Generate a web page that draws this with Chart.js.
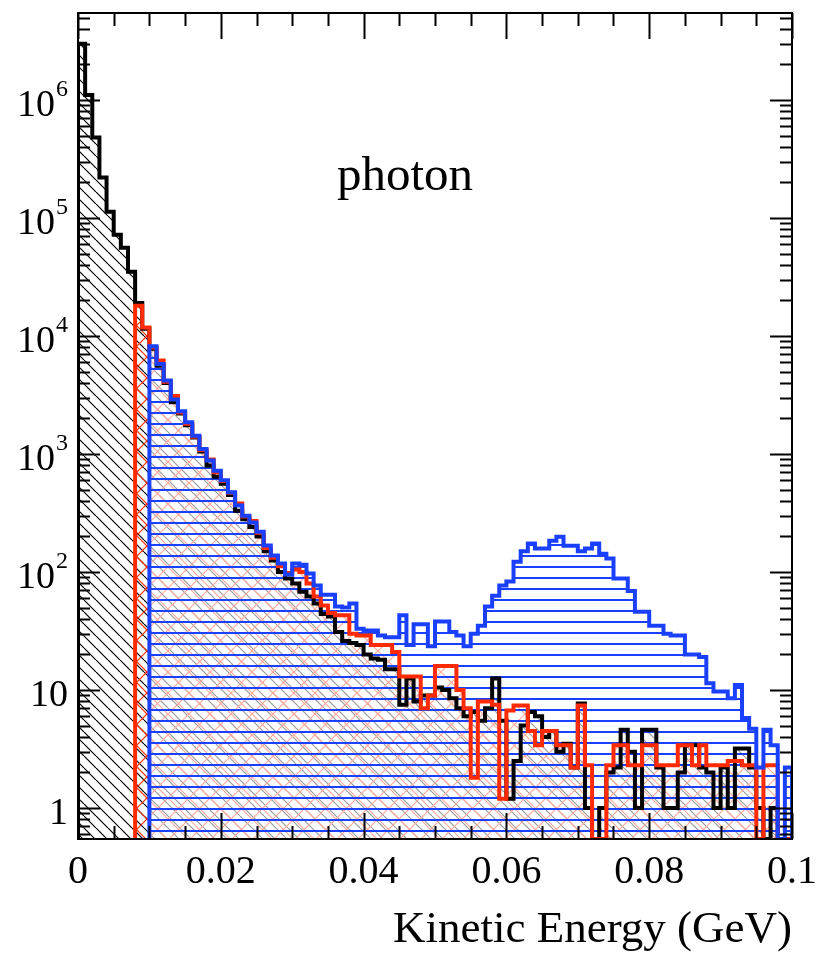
<!DOCTYPE html>
<html>
<head>
<meta charset="utf-8">
<title>photon kinetic energy</title>
<script src="https://cdn.jsdelivr.net/npm/chart.js@4.4.1/dist/chart.umd.min.js"></script>
<style>
  html, body { margin: 0; padding: 0; background: #fff; }
  #wrap { width: 816px; height: 956px; position: relative; }
</style>
</head>
<body>
<div id="wrap"><canvas id="histo"></canvas></div>
<script>
// binning: 100 bins of 1 MeV from 0 to 0.1 GeV
const xMin = 0;
const xMax = 0.1;
const binWidth = 0.001;
const yMin = 0.546;
const yMax = 5.46e6;

// black histogram, bins 0..99
const blackStart = 0;
const blackCounts = [
  3.0e6, 1.1e6, 4.8e5, 2.2e5, 1.13e5, 7.2e4, 5.6e4, 3.5e4, 1.9e4, 1.15e4,
  7800, 5600, 4000, 2750, 2200, 1750, 1380, 1050, 800, 640,
  560, 450, 330, 280, 240, 200, 150, 125, 100, 88,
  80, 68, 62, 54, 44, 42, 31, 26, 25, 24,
  20, 18.5, 18, 15, 15, 7.5, 12.5, 8, 9, 9,
  10.5, 10, 8.5, 7, 6, 6.5, 5.5, 7, 12.5, 5.5,
  1.2, 2.5, 5, 6.5, 6, 4, 4.5, 3, 3.5, 2.2,
  7.7, 1, 0, 1, 2, 2.2, 4.6, 3, 1, 4.6,
  4.6, 2.2, 1, 1, 2, 3.4, 3.4, 2.2, 2, 1,
  2.2, 1, 3.2, 3.2, 2.2, 1, 0, 1, 0, 0
];

// red histogram, bins 8..99
const redStart = 8;
const redCounts = [
  1.8e4, 1.18e4,
  8000, 6200, 4100, 3100, 2250, 1800, 1400, 1080, 900, 700,
  590, 470, 380, 295, 270, 215, 160, 132, 112, 98,
  105, 100, 80, 62, 52, 45, 43, 43, 30, 29,
  29, 24, 24, 24, 21, 13, 13, 13, 7, 9,
  16, 16, 16, 10, 7, 1.8, 8, 8, 7.5, 1.2,
  6.7, 7.4, 7.4, 4.5, 3.4, 4.5, 4.5, 3.4, 3.4, 2.2,
  7.4, 2.3, 0, 0, 2.3, 3.4, 3.4, 2.3, 2.3, 3.4,
  3.4, 2.3, 2.3, 2.3, 3.4, 3.4, 2.3, 3.4, 2.3, 2.3,
  2.3, 2.5, 2.5, 2.3, 2.3, 0, 2.3, 2.3, 0, 0
];

// blue histogram, bins 10..99
const blueStart = 10;
const blueCounts = [
  8200, 5800, 4200, 2900, 2300, 1860, 1430, 1100, 880, 720,
  600, 475, 366, 300, 263, 219, 168, 138, 118, 95,
  118, 115, 97, 77, 64, 64, 51, 50, 54, 33,
  32, 32, 29, 28, 28, 43, 24, 36, 36, 23.5,
  38, 38, 31, 29, 23.5, 30, 35, 51, 63, 77,
  83, 122, 150, 174, 158, 158, 184, 199, 167, 167,
  150, 158, 174, 143, 130, 88, 88, 69, 46, 46,
  35, 35, 30, 29, 29, 20, 20, 19, 11.4, 9.7,
  9.7, 8.5, 11, 5.8, 4.7, 2.2, 4.6, 3.4, 0, 2.2
];

// axis labels
const xMajorTicks = [0, 0.02, 0.04, 0.06, 0.08, 0.1];
const xTickLabels = ['0', '0.02', '0.04', '0.06', '0.08', '0.1'];
const yMajorTicks = [1, 10, 1e2, 1e3, 1e4, 1e5, 1e6];
const yTickBases = ['1', '10', '10', '10', '10', '10', '10'];
const yTickExps = ['', '', '2', '3', '4', '5', '6'];
const xTitle = 'Kinetic Energy (GeV)';
const panelLabel = 'photon';

const serif = "'Liberation Serif', 'DejaVu Serif', serif";
const red = '#ff2a00';
const blue = '#1a40ff';

function hatch(w, h, draw) {
  const c = document.createElement('canvas');
  c.width = w;
  c.height = h;
  const g = c.getContext('2d');
  draw(g, w, h);
  return g.createPattern(c, 'repeat');
}

const blackHatch = hatch(12, 12, (g, w, h) => {
  g.strokeStyle = '#000';
  g.lineWidth = 1.2;
  for (let k = -1; k <= 1; k++) {
    g.beginPath();
    g.moveTo(k * w, 0);
    g.lineTo(k * w + w, h);
    g.stroke();
  }
});

const redHatch = hatch(21, 21, (g, w, h) => {
  g.strokeStyle = red;
  g.lineWidth = 1.2;
  for (let k = -1; k <= 1; k++) {
    g.beginPath();
    g.moveTo(k * w, h);
    g.lineTo(k * w + w, 0);
    g.stroke();
    g.beginPath();
    g.moveTo(k * w, 0);
    g.lineTo(k * w + w, h);
    g.stroke();
  }
});

// horizontal lines over a veil that dims the hatching underneath
const blueHatch = hatch(4, 11, (g, w, h) => {
  g.fillStyle = 'rgba(255,255,255,0.6)';
  g.fillRect(0, 0, w, h);
  g.fillStyle = blue;
  g.fillRect(0, 5, w, 2);
});

// step outline points: rise from the floor at the first edge, fall back at the last
function histPoints(counts, firstBin) {
  const pts = [{ x: firstBin * binWidth, y: yMin }];
  counts.forEach((v, i) => {
    pts.push({ x: (firstBin + i) * binWidth, y: v > 0 ? v : yMin });
  });
  const last = counts[counts.length - 1];
  const end = (firstBin + counts.length) * binWidth;
  pts.push({ x: end, y: last > 0 ? last : yMin });
  pts.push({ x: end, y: yMin });
  return pts;
}

function histDataset(counts, firstBin, color, pattern, order) {
  return {
    data: histPoints(counts, firstBin),
    order: order,
    borderColor: color,
    borderWidth: 4,
    backgroundColor: pattern,
    fill: 'start',
    stepped: 'before',
    pointRadius: 0,
    tension: 0,
    borderJoinStyle: 'miter',
    borderCapStyle: 'butt'
  };
}

const axesPlugin = {
  id: 'rootAxes',
  afterDatasetsDraw(chart) {
    const { ctx, chartArea: a, scales: { x, y } } = chart;
    ctx.save();
    ctx.strokeStyle = '#000';
    ctx.lineWidth = 2;

    // x ticks, top and bottom, pointing inwards
    for (let i = 0; i <= 20; i++) {
      const v = i * 0.005;
      const px = Math.round(x.getPixelForValue(v)) + 0.5;
      const len = i % 4 === 0 ? 26 : 13;
      ctx.beginPath();
      ctx.moveTo(px, a.bottom);
      ctx.lineTo(px, a.bottom - len);
      ctx.moveTo(px, a.top);
      ctx.lineTo(px, a.top + len);
      ctx.stroke();
    }

    // y ticks, left and right
    for (let d = 0.1; d <= 1e6; d *= 10) {
      for (let m = 1; m <= 9; m++) {
        const v = m * d;
        if (v < yMin || v > yMax) continue;
        const py = Math.round(y.getPixelForValue(v)) + 0.5;
        const len = m === 1 ? 22 : 12;
        ctx.beginPath();
        ctx.moveTo(a.left, py);
        ctx.lineTo(a.left + len, py);
        ctx.moveTo(a.right, py);
        ctx.lineTo(a.right - len, py);
        ctx.stroke();
      }
    }

    // frame
    ctx.strokeRect(a.left, a.top, a.right - a.left, a.bottom - a.top);

    ctx.fillStyle = '#000';
    // x tick labels
    ctx.font = '40px ' + serif;
    ctx.textAlign = 'center';
    ctx.textBaseline = 'alphabetic';
    xMajorTicks.forEach((v, i) => {
      ctx.fillText(xTickLabels[i], x.getPixelForValue(v), a.bottom + 44);
    });

    // y tick labels with superscript exponent
    ctx.textAlign = 'right';
    yMajorTicks.forEach((v, i) => {
      const py = y.getPixelForValue(v);
      let right = a.left - 10;
      if (yTickExps[i]) {
        ctx.font = '24px ' + serif;
        ctx.fillText(yTickExps[i], right, py - 4);
        right -= ctx.measureText(yTickExps[i]).width + 1;
      }
      ctx.font = '38px ' + serif;
      ctx.fillText(yTickBases[i], right, py + 16);
    });

    // axis title
    ctx.font = '45px ' + serif;
    ctx.textAlign = 'right';
    ctx.fillText(xTitle, a.right, a.bottom + 103);

    // panel label
    ctx.font = '49px ' + serif;
    ctx.textAlign = 'center';
    ctx.fillText(panelLabel, 405, 190);
    ctx.restore();
  }
};

new Chart(document.getElementById('histo'), {
  type: 'line',
  data: {
    datasets: [
      histDataset(blackCounts, blackStart, '#000000', blackHatch, 3),
      histDataset(redCounts, redStart, red, redHatch, 2),
      histDataset(blueCounts, blueStart, blue, blueHatch, 1)
    ]
  },
  options: {
    responsive: true,
    maintainAspectRatio: false,
    animation: false,
    layout: { padding: { left: 78, top: 13, right: 24, bottom: 117 } },
    plugins: {
      legend: { display: false },
      tooltip: { enabled: false },
      filler: { drawTime: 'beforeDatasetsDraw' }
    },
    scales: {
      x: { type: 'linear', min: xMin, max: xMax, display: false },
      y: { type: 'logarithmic', min: yMin, max: yMax, display: false }
    }
  },
  plugins: [axesPlugin]
});
</script>
</body>
</html>
